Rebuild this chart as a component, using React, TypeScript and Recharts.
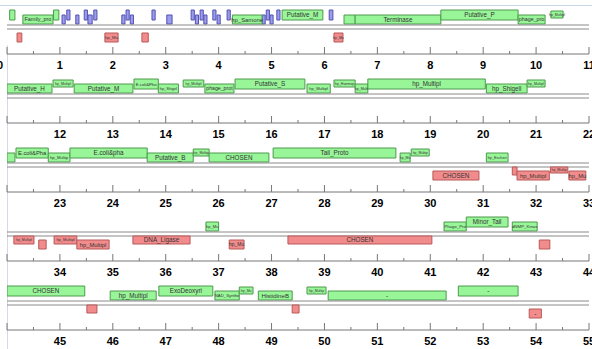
import React from "react"
import {
    ComposedChart,
    XAxis,
    YAxis,
    ReferenceArea,
} from "recharts"

// [start kb, end kb, lane, label]
type Gene = [number, number, number, string]

const rowStarts = [0, 11, 22, 33, 44]
const rowLength = 11

const forwardGenes: Gene[] = [
    [0.05, 0.15, 1, ""],
    [0.3, 0.87, 0, "Family_pro"],
    [0.88, 0.98, 1, ""],
    [4.26, 4.82, 0, "hp_Samone"],
    [5.2, 5.97, 1, "Putative_M"],
    [6.37, 6.58, 0, ""],
    [6.58, 8.2, 0, "Terminase"],
    [8.2, 9.66, 1, "Putative_P"],
    [9.66, 10.17, 0, "phage_pro"],
    [10.28, 10.51, 2, "hp_Multipl"],
    [11.0, 11.85, 0, "Putative_H"],
    [11.87, 12.25, 2, "hp_Multipl"],
    [12.27, 13.38, 0, "Putative_M"],
    [13.4, 13.86, 1, "E.coli&Pho"],
    [13.86, 14.24, 0, "hp_Shigel"],
    [14.33, 14.72, 2, "hp_Multipl"],
    [14.74, 15.29, 0, "phage_prot"],
    [15.31, 16.63, 1, "Putative_S"],
    [16.67, 17.11, 0, "hp_Multipl"],
    [17.18, 17.58, 2, "hp_Haemop"],
    [17.58, 17.82, 0, "hp_Multi"],
    [17.82, 20.04, 1, "hp_Multipl"],
    [20.06, 20.83, 0, "hp_Shigell"],
    [20.83, 21.17, 2, "hp_Multipl"],
    [22.0, 22.15, 0, ""],
    [22.17, 22.78, 1, "E.coli&Pha"],
    [22.78, 23.19, 0, "hp_Multip"],
    [23.19, 24.65, 1, "E.coli&pha"],
    [24.65, 25.52, 0, "Putative_B"],
    [25.52, 25.82, 2, "hp_Multip"],
    [25.82, 26.95, 0, "CHOSEN"],
    [27.03, 29.35, 1, "Tail_Proto"],
    [29.43, 29.62, 0, "hp_Mu"],
    [29.64, 29.98, 2, "hp_Multip"],
    [31.06, 31.47, 0, "hp_Escheri"],
    [36.76, 37.0, 0, "hp_Mu"],
    [41.26, 41.68, 0, "Phage_Pro"],
    [41.68, 42.47, 1, "Minor_Tail"],
    [42.55, 43.02, 0, "dNMP_Kinas"],
    [44.0, 45.47, 1, "CHOSEN"],
    [45.95, 46.82, 0, "hp_Multipl"],
    [46.87, 47.89, 1, "ExoDeoxyri"],
    [47.93, 48.39, 0, "NAD_Synthe"],
    [48.39, 48.65, 2, "hp_Mu"],
    [48.75, 49.39, 0, "HistidineB"],
    [49.67, 50.03, 2, "hp_Multip"],
    [50.07, 52.3, 0, "-"],
    [52.53, 53.66, 1, "-"],
]

const reverseGenes: Gene[] = [
    [0.19, 0.28, 1, ""],
    [1.85, 2.1, 1, "hp_Mu"],
    [2.55, 2.67, 1, ""],
    [6.18, 6.35, 1, "hp_Mu"],
    [30.05, 30.92, 1, "CHOSEN"],
    [31.55, 31.64, 0, ""],
    [31.64, 32.25, 1, "hp_Multipl"],
    [32.27, 32.6, 2, "hp_Multip"],
    [32.62, 32.94, 1, "hp_Mu"],
    [33.13, 33.51, 0, "hp_Multipl"],
    [33.6, 33.74, 1, ""],
    [33.89, 34.32, 0, "hp_Multipl"],
    [34.32, 34.93, 1, "hp_Multipl"],
    [35.38, 36.46, 0, "DNA_Ligase"],
    [37.2, 37.48, 1, "hp_Mu"],
    [38.31, 41.03, 0, "CHOSEN"],
    [43.06, 43.26, 1, ""],
    [45.51, 45.7, 0, ""],
    [49.39, 49.52, 0, ""],
    [53.87, 54.1, 1, "-"],
]

const rnaGenes: Gene[] = [
    [1.04, 1.1, 0, ""], [1.13, 1.19, 1, ""], [1.3, 1.36, 0, ""],
    [1.46, 1.52, 1, ""], [1.53, 1.61, 0, ""], [1.64, 1.7, 1, ""],
    [2.17, 2.23, 0, ""], [2.25, 2.31, 1, ""], [2.33, 2.39, 0, ""],
    [2.74, 2.8, 1, ""], [3.02, 3.12, 0, ""], [3.48, 3.54, 1, ""],
    [3.56, 3.62, 0, ""], [3.65, 3.71, 1, ""], [3.72, 3.78, 0, ""],
    [3.89, 3.95, 1, ""], [3.97, 4.03, 0, ""], [4.16, 4.22, 1, ""],
    [4.82, 4.88, 0, ""], [4.9, 4.96, 1, ""], [4.97, 5.03, 0, ""],
    [5.1, 5.16, 1, ""], [6.09, 6.16, 1, ""],
]

// lane -> [y1, y2] in px away from the ruler
const forwardLanes = [[1, 10], [5, 15], [7, 14]]
const reverseLanes = [[4, 12], [8, 17], [4, 10]]

const GREEN = { fill: "#98f598", stroke: "#4f9a4f" }
const RED = { fill: "#f28c8c", stroke: "#b85858" }
const BLUE = { fill: "#9c9cee", stroke: "#5252b0" }

const FONT = "'Liberation Sans', Arial, sans-serif"
const WIDTH = 592
const MARGIN = { top: 0, right: 3, bottom: 0, left: 7 }
const PX_PER_KB = (WIDTH - MARGIN.left - MARGIN.right) / rowLength

function rulerTicks(start: number) {
    const out: number[] = []
    for (let i = 0; i <= rowLength * 10; i++) out.push(Math.round((start + i / 10) * 10) / 10)
    return out
}

function axisTicks(start: number) {
    const out: number[] = []
    for (let i = 0; i <= rowLength * 2; i++) out.push(start + i / 2)
    return out
}

function inRow(g: Gene, start: number) {
    return g[1] > start && g[0] < start + rowLength
}

function labelSize(g: Gene) {
    if (g[2] === 2) return 3.5
    const px = (g[1] - g[0]) * PX_PER_KB
    const fit = (px - 2) / (Math.max(g[3].length, 1) * 0.52)
    return Math.max(3.5, Math.min(6.3, fit))
}

function geneAreas(genes: Gene[], lanes: number[][], color: { fill: string, stroke: string }, start: number, prefix: string) {
    return genes.filter((g) => inRow(g, start)).map((g, i) => {
        const [y1, y2] = lanes[g[2]]
        return (
            <ReferenceArea
                key={prefix + i}
                x1={Math.max(g[0], start)}
                x2={Math.min(g[1], start + rowLength)}
                y1={y1}
                y2={y2}
                fill={color.fill}
                fillOpacity={1}
                stroke={color.stroke}
                strokeWidth={1}
                ifOverflow="hidden"
                label={g[3] ? {
                    value: g[3],
                    position: "center",
                    fontSize: labelSize(g),
                    fill: "#333",
                    fontFamily: FONT,
                } : undefined}
            />
        )
    })
}

function BottomTick(props: any) {
    const { x, y, payload, start } = props
    const v = payload.value
    const major = Math.abs(v - Math.round(v)) < 1e-6
    const showLabel = major && (v > start || v === 0)
    return (
        <g>
            <line x1={x} x2={x} y1={y} y2={y - (major ? 7 : 3)} stroke="#777" />
            {showLabel && (
                <text
                    x={v === 0 ? x - 7 : x}
                    y={y + 15}
                    textAnchor="middle"
                    fontSize={11}
                    fontWeight="bold"
                    fontFamily={FONT}
                    fill="#000"
                >
                    {v}
                </text>
            )}
        </g>
    )
}

function GenomeRow({ index }: { index: number }) {
    const start = rowStarts[index]
    const domain: [number, number] = [start, start + rowLength]
    const ruler = 25 + 69 * index
    const rTicks = rulerTicks(start)
    const data = rTicks.map((t) => ({ x: t }))

    return (
        <>
            <div style={{ position: "absolute", left: 0, top: ruler - 20 }}>
                <ComposedChart width={WIDTH} height={25} data={data} margin={MARGIN}>
                    <XAxis
                        dataKey="x"
                        type="number"
                        domain={domain}
                        allowDataOverflow
                        ticks={rTicks}
                        interval={0}
                        tick={false}
                        tickSize={3}
                        height={4}
                        stroke="#8a8a8a"
                    />
                    <XAxis
                        xAxisId="b"
                        dataKey="x"
                        type="number"
                        domain={domain}
                        allowDataOverflow
                        tick={false}
                        tickLine={false}
                        height={1}
                        stroke="#8a8a8a"
                    />
                    <YAxis type="number" domain={[0, 20]} hide allowDataOverflow />
                    {geneAreas(rnaGenes, forwardLanes, BLUE, start, "b")}
                    {geneAreas(forwardGenes, forwardLanes, GREEN, start, "f")}
                </ComposedChart>
            </div>
            <div style={{ position: "absolute", left: 0, top: ruler }}>
                <ComposedChart width={WIDTH} height={45} data={data} margin={MARGIN}>
                    <XAxis
                        dataKey="x"
                        type="number"
                        domain={domain}
                        allowDataOverflow
                        ticks={axisTicks(start)}
                        interval={0}
                        tickLine={false}
                        tickSize={0}
                        tickMargin={0}
                        height={16}
                        stroke="#777"
                        tick={<BottomTick start={start} />}
                    />
                    <YAxis type="number" domain={[0, 29]} reversed hide allowDataOverflow />
                    {geneAreas(reverseGenes, reverseLanes, RED, start, "r")}
                </ComposedChart>
            </div>
        </>
    )
}

export default function App() {
    return (
        <div
            style={{
                position: "absolute",
                left: 0,
                top: 0,
                width: WIDTH,
                height: 349,
                background: "#fff",
                overflow: "hidden",
                fontFamily: FONT,
            }}
        >
            <div style={{ position: "absolute", left: 0, top: 5, width: WIDTH, height: 1, background: "#c9d6ea" }} />
            <div style={{ position: "absolute", left: 7, top: 45, width: 1, height: 304, background: "#d3dbe8" }} />
            {rowStarts.map((_, i) => (
                <GenomeRow key={i} index={i} />
            ))}
        </div>
    )
}
